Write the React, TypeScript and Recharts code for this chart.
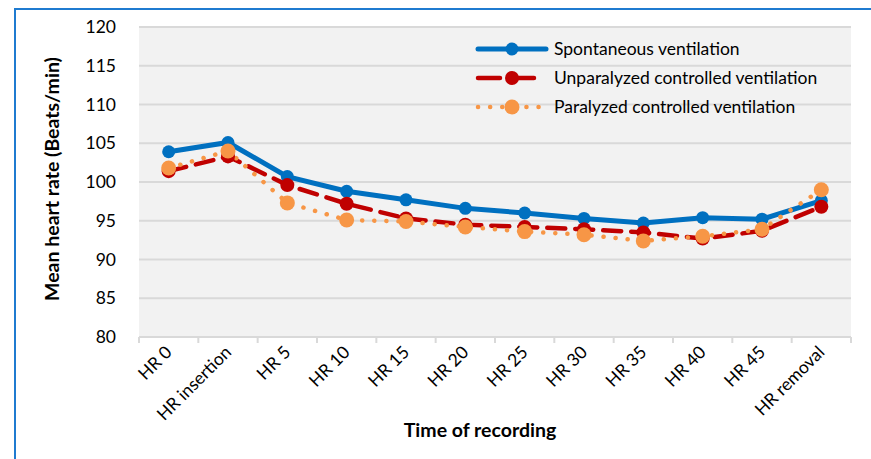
import { LineChart, Line, XAxis, YAxis, CartesianGrid, Label } from "recharts";

const times = [
  "HR 0",
  "HR insertion",
  "HR 5",
  "HR 10",
  "HR 15",
  "HR 20",
  "HR 25",
  "HR 30",
  "HR 35",
  "HR 40",
  "HR 45",
  "HR removal",
];
const spontaneous = [103.9, 105.1, 100.7, 98.8, 97.7, 96.6, 96.0, 95.3, 94.7, 95.4, 95.2, 97.6];
const unparalyzed = [101.4, 103.3, 99.6, 97.2, 95.3, 94.5, 94.2, 93.9, 93.5, 92.7, 93.7, 96.8];
const paralyzed = [101.8, 104.0, 97.3, 95.1, 94.9, 94.2, 93.6, 93.2, 92.4, 93.0, 93.9, 99.0];
const yTicks = [80, 85, 90, 95, 100, 105, 110, 115, 120];

const series = [
  { key: "spont", name: "Spontaneous ventilation", color: "#0070C0", dash: undefined, legendDash: undefined, width: 5, r: 6.5 },
  { key: "unpar", name: "Unparalyzed controlled ventilation", color: "#C00000", dash: "18 10", legendDash: "22 12", width: 4.5, r: 7 },
  { key: "par", name: "Paralyzed controlled ventilation", color: "#F79646", dash: "0.1 12", legendDash: "0.1 12", width: 4.5, r: 7.5 },
];

const data = times.map((t, i) => ({
  time: t,
  spont: spontaneous[i],
  unpar: unparalyzed[i],
  par: paralyzed[i],
}));

const FONT = "Lato, 'Open Sans', sans-serif";
const AXIS = "#d9d9d9";

// category labels, plus Excel-style tick marks between categories
function XTick(props: any) {
  const { x, y, payload, index, visibleTicksCount } = props;
  const half = payload.offset || 0;
  const axisY = y - 8;
  return (
    <g>
      {half > 0 && (
        <line x1={x - half} y1={axisY} x2={x - half} y2={axisY + 6} stroke={AXIS} strokeWidth={2} />
      )}
      {half > 0 && index === visibleTicksCount - 1 && (
        <line x1={x + half} y1={axisY} x2={x + half} y2={axisY + 6} stroke={AXIS} strokeWidth={2} />
      )}
      <g transform={`translate(${x},${y + 4})`}>
        <text
          textAnchor="end"
          transform="rotate(-45)"
          dy="0.35em"
          fontSize={17.5}
          fill="#000"
          fontFamily={FONT}
        >
          {payload.value}
        </text>
      </g>
    </g>
  );
}

function LegendBox() {
  return (
    <div
      style={{
        position: "absolute",
        top: 34,
        left: 470,
        fontFamily: FONT,
        fontSize: 17.5,
        color: "#000",
      }}
    >
      {series.map((s) => (
        <div key={s.key} style={{ display: "flex", alignItems: "center", height: 29 }}>
          <svg width={80} height={20}>
            <line
              x1={8}
              y1={10}
              x2={76}
              y2={10}
              stroke={s.color}
              strokeWidth={s.width}
              strokeDasharray={s.legendDash}
              strokeLinecap="round"
            />
            <circle cx={42} cy={10} r={s.r} fill={s.color} />
          </svg>
          <span style={{ marginLeft: 4 }}>{s.name}</span>
        </div>
      ))}
    </div>
  );
}

export default function App() {
  return (
    <div style={{ position: "fixed", top: 0, left: 0, width: 871, height: 459, background: "#fff" }}>
      <LineChart
        width={871}
        height={459}
        data={data}
        margin={{ top: 27, right: 20, bottom: 10, left: 0 }}
        style={{ position: "absolute", top: 0, left: 0 }}
      >
        <CartesianGrid vertical={false} stroke={AXIS} strokeWidth={2} fill="#f2f2f2" />
        <XAxis
          dataKey="time"
          scale="band"
          interval={0}
          axisLine={{ stroke: AXIS, strokeWidth: 2 }}
          tickLine={false}
          height={112}
          tick={<XTick />}
        >
          <Label
            value="Time of recording"
            position="insideBottom"
            offset={12}
            dx={-15}
            style={{ fontFamily: FONT, fontSize: 19.5, fontWeight: 700, fill: "#000" }}
          />
        </XAxis>
        <YAxis
          domain={[80, 120]}
          ticks={yTicks}
          width={139}
          axisLine={false}
          tickLine={false}
          tickMargin={17}
          tick={{ fontFamily: FONT, fontSize: 17.5, fill: "#000" }}
        >
          <Label
            value="Mean heart rate (Beats/min)"
            angle={-90}
            position="center"
            dx={-17}
            dy={-3}
            style={{ fontFamily: FONT, fontSize: 19.5, fontWeight: 700, fill: "#000", textAnchor: "middle" }}
          />
        </YAxis>
        {series.map((s) => (
          <Line
            key={s.key}
            dataKey={s.key}
            name={s.name}
            stroke={s.color}
            strokeWidth={s.width}
            strokeDasharray={s.dash}
            strokeLinecap="round"
            dot={{ r: s.r, fill: s.color, stroke: "none" }}
            activeDot={false}
            isAnimationActive={false}
          />
        ))}
      </LineChart>
      <LegendBox />
      <div
        style={{
          position: "absolute",
          left: 14,
          top: 8,
          right: 0,
          bottom: 0,
          borderLeft: "2px solid #1F7BD0",
          borderTop: "2px solid #1F7BD0",
          pointerEvents: "none",
        }}
      />
    </div>
  );
}
